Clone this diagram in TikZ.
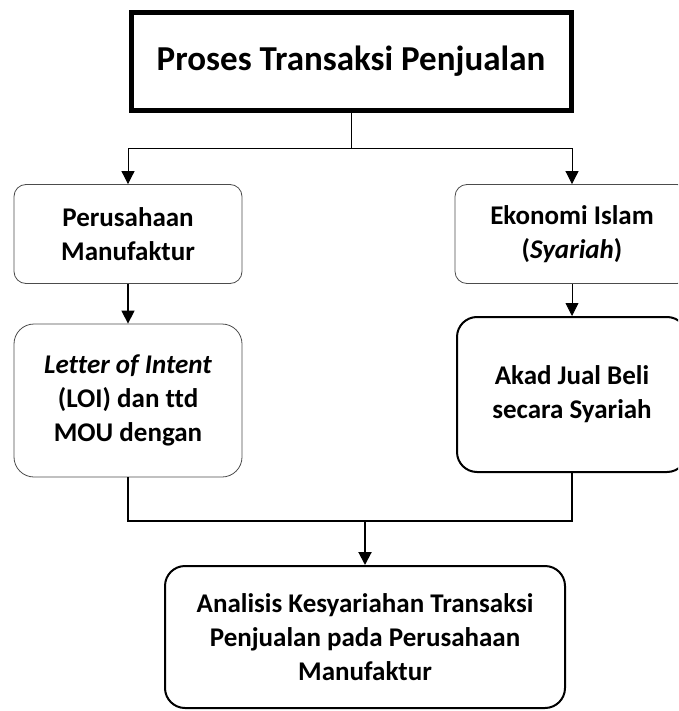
\documentclass[tikz,border=0pt]{standalone}
\usepackage{fontspec}
\setmainfont{Carlito}[Ligatures=NoCommon]
\usetikzlibrary{arrows.meta}

\begin{document}
\begin{tikzpicture}[x=1pt, y=-1pt]
    \tikzset{
        judul/.style={draw, line width=5pt, minimum width=440pt, minimum height=98pt,
            inner sep=0pt, font=\fontsize{35}{40}\selectfont\bfseries},
        kotak/.style={draw=black!70, line width=0.8pt, rounded corners=12pt, align=center,
            inner sep=0pt, font=\fontsize{27}{34}\selectfont\bfseries},
        tebal/.style={kotak, draw=black, line width=2pt, rounded corners=20pt},
        panah/.style={-{Triangle[width=13pt, length=13pt]}}
    }
    \useasboundingbox (0,0) rectangle (678,711);
    \clip (0,0) rectangle (678,711);

    % ---- Judul ----
    \node[judul] (proses) at (351,61.5) {Proses Transaksi Penjualan};

    % ---- Cabang kiri: perusahaan manufaktur ----
    \node[kotak, minimum width=228pt, minimum height=99pt] (manuf) at (128,234) {Perusahaan\\Manufaktur};
    \node[kotak, rounded corners=20pt, minimum width=228pt, minimum height=153pt] (loi) at (128,400.5)
        {{\itshape Letter of Intent}\\(LOI) dan ttd\\MOU dengan};

    % ---- Cabang kanan: ekonomi islam ----
    \node[kotak, minimum width=234pt, minimum height=99pt] (ekonomi) at (572,234) {Ekonomi Islam\\({\itshape Syariah})};
    \node[tebal, minimum width=230pt, minimum height=155pt] (akad) at (572,394.5) {Akad Jual Beli\\secara Syariah};

    % ---- Hasil analisis ----
    \node[tebal, minimum width=400pt, minimum height=142pt] (analisis) at (365,637)
        {Analisis Kesyariahan Transaksi\\Penjualan pada Perusahaan\\Manufaktur};

    % ---- Penghubung ----
    \coordinate (bagi) at (351,148);
    \coordinate (gabung) at (365,521);
    \draw[panah, line width=0.8pt] (proses.south) -- (bagi) -| (manuf.north);
    \draw[panah, line width=0.8pt] (bagi) -| (ekonomi.north);
    \draw[panah, line width=1.4pt] (manuf) -- (loi);
    \draw[panah, line width=0.8pt] (ekonomi) -- (akad);
    \draw[line width=2pt] (loi.south) |- (gabung) -| (akad.south);
    \draw[panah, line width=2pt] (gabung) -- (analisis.north);
\end{tikzpicture}
\end{document}
